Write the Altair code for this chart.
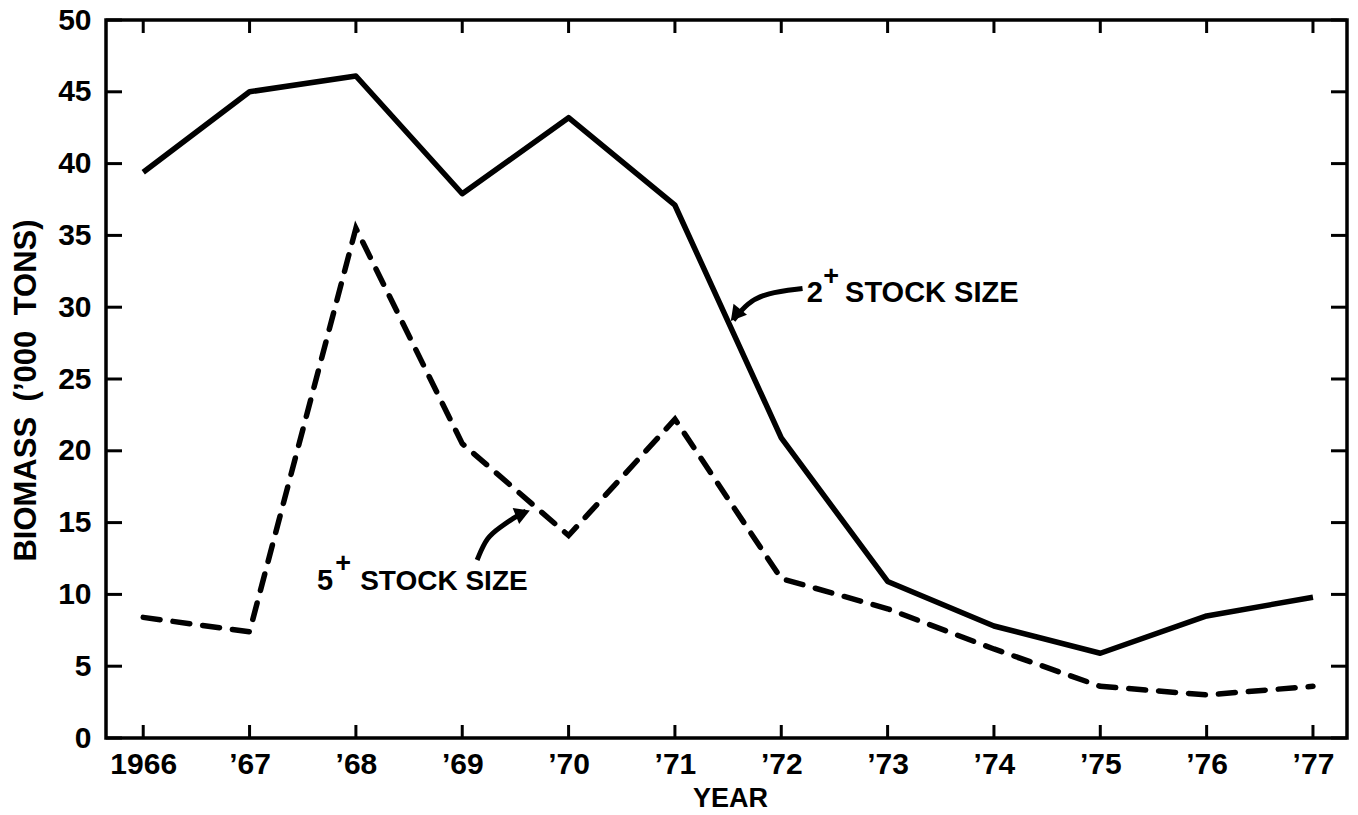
import altair as alt
import pandas as pd

years = [1966, 1967, 1968, 1969, 1970, 1971, 1972, 1973, 1974, 1975, 1976, 1977]
stock2 = [39.4, 45.0, 46.1, 37.9, 43.2, 37.1, 20.9, 10.9, 7.8, 5.9, 8.5, 9.8]
stock5 = [8.4, 7.4, 35.5, 20.5, 14.1, 22.2, 11.1, 9.0, 6.2, 3.6, 3.0, 3.6]
y_ticks = [0, 5, 10, 15, 20, 25, 30, 35, 40, 45, 50]

# annotation arrows (data coordinates)
arrow2_x = [1972.20, 1971.86, 1971.68, 1971.55]
arrow2_y = [31.3, 31.0, 30.3, 29.1]
arrow5_x = [1969.14, 1969.23, 1969.36, 1969.48, 1969.60]
arrow5_y = [12.4, 14.0, 14.69, 15.32, 15.8]

NARROW = "Liberation Sans Narrow, Liberation Sans, sans-serif"
FONT = "Liberation Sans, Arial, sans-serif"
W, H = 1241, 718
xdom = [1965.65, 1977.32]

xs = alt.Scale(domain=xdom, nice=False, zero=False)
ys = alt.Scale(domain=[0, 50], nice=False)

df = pd.DataFrame({"year": years, "s2": stock2, "s5": stock5})

label_expr = "datum.value == 1966 ? '1966' : '\u2019' + substring(toString(datum.value), 2, 4)"

base = alt.Chart(df)

solid = base.mark_line(color="black", strokeWidth=5.5, strokeJoin="round").encode(
    x=alt.X("year:Q", scale=xs,
            axis=alt.Axis(values=years, labelExpr=label_expr, ticks=False, domain=False,
                          grid=False, labelFont=NARROW, labelFontWeight="bold", labelFontSize=30,
                          labelColor="black", labelPadding=11, labelFlush=False,
                          title="YEAR", titleFont=FONT, titleFontWeight="bold", titleFontSize=27,
                          titleColor="black", titleX=624, titleY=68, titleBaseline="alphabetic")),
    y=alt.Y("s2:Q", scale=ys,
            axis=alt.Axis(values=y_ticks, ticks=False, domain=False, grid=False,
                          labelFont=NARROW, labelFontWeight="bold", labelFontSize=30,
                          labelColor="black", labelPadding=15, labelFlush=False,
                          title="BIOMASS\u2002(\u2019000\u2002TONS)", titleFont=FONT,
                          titleFontWeight="bold", titleFontSize=31, titleColor="black",
                          titleX=-80, titleY=370, titleBaseline="middle", titleAngle=-90)),
)

dashed = base.mark_line(color="black", strokeWidth=5.5, strokeDash=[17, 13], strokeCap="round").encode(
    x=alt.X("year:Q", scale=xs), y=alt.Y("s5:Q", scale=ys))

tick_x = pd.DataFrame({"year": years})
tick_y = pd.DataFrame({"v": y_ticks})
bottom_ticks = alt.Chart(tick_x).mark_rule(color="black", strokeWidth=3).encode(
    x=alt.X("year:Q", scale=xs), y=alt.value(H), y2=alt.value(H - 13))
top_ticks = alt.Chart(tick_x).mark_rule(color="black", strokeWidth=3).encode(
    x=alt.X("year:Q", scale=xs), y=alt.value(0), y2=alt.value(13))
left_ticks = alt.Chart(tick_y).mark_rule(color="black", strokeWidth=3).encode(
    y=alt.Y("v:Q", scale=ys), x=alt.value(0), x2=alt.value(16))
right_ticks = alt.Chart(tick_y).mark_rule(color="black", strokeWidth=3).encode(
    y=alt.Y("v:Q", scale=ys), x=alt.value(W), x2=alt.value(W - 16))

arr = pd.DataFrame({
    "x": arrow2_x + arrow5_x,
    "y": arrow2_y + arrow5_y,
    "g": ["a2"] * len(arrow2_x) + ["a5"] * len(arrow5_x),
    "o": list(range(len(arrow2_x))) + list(range(len(arrow5_x))),
})
arrow_lines = alt.Chart(arr).mark_line(color="black", strokeWidth=5, interpolate="basis").encode(
    x=alt.X("x:Q", scale=xs), y=alt.Y("y:Q", scale=ys), detail="g:N", order="o:Q")

heads = pd.DataFrame({"x": [arrow2_x[-1] + 0.02, arrow5_x[-1] - 0.03],
                      "y": [arrow2_y[-1] + 0.35, arrow5_y[-1] - 0.15],
                      "a": [129, 338]})
arrow_heads = alt.Chart(heads).mark_point(shape="triangle-right", filled=True, color="black",
                                          size=300, opacity=1).encode(
    x=alt.X("x:Q", scale=xs), y=alt.Y("y:Q", scale=ys), angle=alt.Angle("a:Q", scale=None))

labels = pd.DataFrame({
    "x": [1972.24, 1972.60, 1967.635, 1968.04],
    "y": [30.36, 30.36, 10.31, 10.31],
    "t": ["2", "STOCK SIZE", "5", "STOCK SIZE"],
    "s": [29, 29, 29, 28],
})
text_main = alt.Chart(labels).mark_text(font=FONT, fontWeight="bold", align="left",
                                        baseline="alphabetic", color="black").encode(
    x=alt.X("x:Q", scale=xs), y=alt.Y("y:Q", scale=ys), text="t:N",
    size=alt.Size("s:Q", scale=None))
plus = pd.DataFrame({"x": [1972.47, 1967.88], "y": [32.1, 12.1], "t": ["+", "+"]})
text_plus = alt.Chart(plus).mark_text(font=FONT, fontWeight="bold", fontSize=27, align="center",
                                      baseline="middle", color="black").encode(
    x=alt.X("x:Q", scale=xs), y=alt.Y("y:Q", scale=ys), text="t:N")

chart = alt.layer(solid, dashed, bottom_ticks, top_ticks, left_ticks, right_ticks,
                  arrow_lines, arrow_heads, text_main, text_plus).properties(
    width=W, height=H,
    autosize=alt.AutoSizeParams(type="none"),
    padding={"left": 106, "top": 20, "right": 11, "bottom": 77},
    background="white",
).configure_view(stroke="black", strokeWidth=3.5)

chart.save("out.html", embed_options={"renderer": "svg", "actions": False})
